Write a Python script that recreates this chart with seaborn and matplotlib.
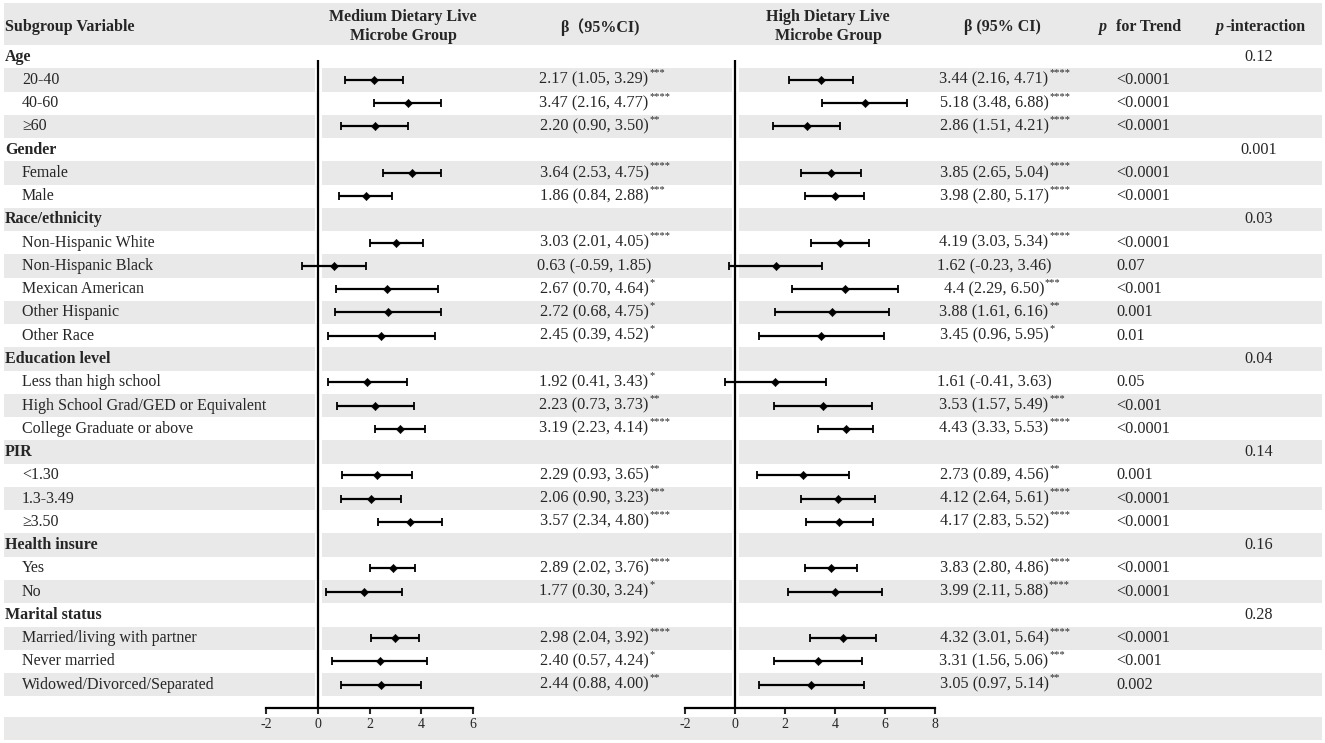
import numpy as np
import pandas as pd
import matplotlib
matplotlib.use("Agg")
import matplotlib.pyplot as plt
import matplotlib.patheffects as pe
from matplotlib.patches import Rectangle
import seaborn as sns

# dados da figura
group_names = ["Age", "Gender", "Race/ethnicity", "Education level", "PIR", "Health insure", "Marital status"]
group_sizes = [3, 2, 5, 3, 3, 2, 3]
p_interaction = ["0.12", "0.001", "0.03", "0.04", "0.14", "0.16", "0.28"]

sub_labels = ["20-40", "40-60", "≥60", "Female", "Male",
              "Non-Hispanic White", "Non-Hispanic Black", "Mexican American", "Other Hispanic", "Other Race",
              "Less than high school", "High School Grad/GED or Equivalent", "College Graduate or above",
              "<1.30", "1.3-3.49", "≥3.50", "Yes", "No",
              "Married/living with partner", "Never married", "Widowed/Divorced/Separated"]

med_beta = ["2.17", "3.47", "2.20", "3.64", "1.86", "3.03", "0.63", "2.67", "2.72", "2.45", "1.92",
            "2.23", "3.19", "2.29", "2.06", "3.57", "2.89", "1.77", "2.98", "2.40", "2.44"]
med_lo = ["1.05", "2.16", "0.90", "2.53", "0.84", "2.01", "-0.59", "0.70", "0.68", "0.39", "0.41",
          "0.73", "2.23", "0.93", "0.90", "2.34", "2.02", "0.30", "2.04", "0.57", "0.88"]
med_hi = ["3.29", "4.77", "3.50", "4.75", "2.88", "4.05", "1.85", "4.64", "4.75", "4.52", "3.43",
          "3.73", "4.14", "3.65", "3.23", "4.80", "3.76", "3.24", "3.92", "4.24", "4.00"]
med_stars = ["***", "****", "**", "****", "***", "****", "", "*", "*", "*", "*",
             "**", "****", "**", "***", "****", "****", "*", "****", "*", "**"]

high_beta = ["3.44", "5.18", "2.86", "3.85", "3.98", "4.19", "1.62", "4.4", "3.88", "3.45", "1.61",
             "3.53", "4.43", "2.73", "4.12", "4.17", "3.83", "3.99", "4.32", "3.31", "3.05"]
high_lo = ["2.16", "3.48", "1.51", "2.65", "2.80", "3.03", "-0.23", "2.29", "1.61", "0.96", "-0.41",
           "1.57", "3.33", "0.89", "2.64", "2.83", "2.80", "2.11", "3.01", "1.56", "0.97"]
high_hi = ["4.71", "6.88", "4.21", "5.04", "5.17", "5.34", "3.46", "6.50", "6.16", "5.95", "3.63",
           "5.49", "5.53", "4.56", "5.61", "5.52", "4.86", "5.88", "5.64", "5.06", "5.14"]
high_stars = ["****", "****", "****", "****", "****", "****", "", "***", "**", "*", "",
              "***", "****", "**", "****", "****", "****", "****", "****", "***", "**"]

p_trend = ["<0.0001", "<0.0001", "<0.0001", "<0.0001", "<0.0001", "<0.0001", "0.07", "<0.001", "0.001", "0.01",
           "0.05", "<0.001", "<0.0001", "0.001", "<0.0001", "<0.0001", "<0.0001", "<0.0001", "<0.0001",
           "<0.001", "0.002"]

med_ticks = [-2, 0, 2, 4, 6]
high_ticks = [-2, 0, 2, 4, 6, 8]

# montar tabela de linhas (grupo + subgrupos)
linhas = []
k = 0
for g, n, pint in zip(group_names, group_sizes, p_interaction):
    linhas.append(dict(tipo="grupo", label=g, pint=pint, idx=-1))
    for j in range(n):
        linhas.append(dict(tipo="sub", label=sub_labels[k], pint="", idx=k))
        k += 1
df = pd.DataFrame(linhas)
df["row"] = np.arange(len(df))

dados = pd.DataFrame({
    "label": sub_labels,
    "med_b": pd.to_numeric(med_beta), "med_lo": pd.to_numeric(med_lo), "med_hi": pd.to_numeric(med_hi),
    "high_b": pd.to_numeric(high_beta), "high_lo": pd.to_numeric(high_lo), "high_hi": pd.to_numeric(high_hi),
})
dados["row"] = df.loc[df["tipo"] == "sub", "row"].values

# estilo
sns.set_style("white")
plt.rcParams["font.family"] = ["Liberation Serif", "Noto Sans CJK SC"]
plt.rcParams["axes.unicode_minus"] = False

W, H = 1325, 743
ROW_H = 23.26
Y0 = 45 + ROW_H / 2
AX_BOTTOM = 708
AX_TOP = 45
CINZA = "#e9e9e9"
FS = 11.5
FS_VAL = 11.7
FS_STAR = 7.5


def ypix(i):
    return Y0 + ROW_H * i


fig = plt.figure(figsize=(W / 100, H / 100), dpi=100)
ax = fig.add_axes([0, 0, 1, 1])
ax.set_xlim(0, W)
ax.set_ylim(H, 0)
ax.axis("off")

# faixas cinzas
ax.add_patch(Rectangle((4, 3), 1318, 42, color=CINZA, lw=0))
for i in range(len(df)):
    if i % 2 == 1:
        ax.add_patch(Rectangle((4, ypix(i) - ROW_H / 2), 1318, ROW_H, color=CINZA, lw=0))
# faixa final abaixo do eixo
ax.add_patch(Rectangle((4, 717), 1318, 23, color=CINZA, lw=0))

# cabeçalho
ax.text(5, 27, "Subgroup Variable", fontsize=FS, fontweight="bold", va="center", ha="left")
ax.text(403, 17, "Medium Dietary Live", fontsize=FS, fontweight="bold", va="center", ha="center")
ax.text(403, 36, "Microbe Group", fontsize=FS, fontweight="bold", va="center", ha="center")
ax.text(600, 27, "β（95%CI)", fontsize=FS, fontweight="bold", va="center", ha="center")
ax.text(828, 17, "High Dietary Live", fontsize=FS, fontweight="bold", va="center", ha="center")
ax.text(828, 36, "Microbe Group", fontsize=FS, fontweight="bold", va="center", ha="center")
ax.text(1002, 27, "β (95% CI)", fontsize=FS, fontweight="bold", va="center", ha="center")
ax.text(1098, 27, "p", fontsize=FS, fontweight="bold", style="italic", va="center", ha="left")
ax.text(1116, 27, "for Trend", fontsize=FS, fontweight="bold", va="center", ha="left")
ax.text(1215, 27, "p", fontsize=FS, fontweight="bold", style="italic", va="center", ha="left")
ax.text(1225, 27, "-interaction", fontsize=FS, fontweight="bold", va="center", ha="left")

# linhas da tabela
for _, r in df.iterrows():
    y = ypix(r["row"])
    if r["tipo"] == "grupo":
        ax.text(5, y, r["label"], fontsize=FS, fontweight="bold", va="center", ha="left")
        ax.text(1259, y, r["pint"], fontsize=FS_VAL, va="center", ha="center")
    else:
        k = r["idx"]
        ax.text(22, y, r["label"], fontsize=FS, va="center", ha="left")
        t1 = ax.text(594, y, f"{med_beta[k]} ({med_lo[k]}, {med_hi[k]})", fontsize=FS_VAL, va="center", ha="center")
        if med_stars[k]:
            ax.annotate(med_stars[k], xy=(1, 1), xycoords=t1, xytext=(0.5, 2.5), textcoords="offset points",
                        fontsize=FS_STAR, va="top", ha="left")
        t2 = ax.text(994, y, f"{high_beta[k]} ({high_lo[k]}, {high_hi[k]})", fontsize=FS_VAL, va="center", ha="center")
        if high_stars[k]:
            ax.annotate(high_stars[k], xy=(1, 1), xycoords=t2, xytext=(0.5, 2.5), textcoords="offset points",
                        fontsize=FS_STAR, va="top", ha="left")
        ax.text(1116, y, p_trend[k], fontsize=FS_VAL, va="center", ha="left")


# forest plots
def forest(x0, x1, col, ticks):
    fa = fig.add_axes([x0 / W, (H - AX_BOTTOM) / H, (x1 - x0) / W, (AX_BOTTOM - AX_TOP) / H])
    fa.patch.set_alpha(0)
    y_bot = (AX_BOTTOM - Y0) / ROW_H
    fa.set_xlim(ticks[0], ticks[-1])
    fa.set_ylim(y_bot, (AX_TOP - Y0) / ROW_H)
    fa.vlines(0, 0.15, y_bot, color="black", lw=1.6, zorder=1,
              path_effects=[pe.Stroke(linewidth=5, foreground="white"), pe.Normal()])
    fa.errorbar(dados[f"{col}_b"], dados["row"],
                xerr=[dados[f"{col}_b"] - dados[f"{col}_lo"], dados[f"{col}_hi"] - dados[f"{col}_b"]],
                fmt="none", ecolor="black", elinewidth=1.6, capsize=3.2, capthick=1.3, zorder=3)
    sns.scatterplot(data=dados, x=f"{col}_b", y="row", marker="D", color="black", s=18,
                    edgecolor="black", ax=fa, zorder=4, legend=False)
    for s in ["top", "right", "left"]:
        fa.spines[s].set_visible(False)
    fa.spines["bottom"].set_linewidth(1.6)
    fa.spines["bottom"].set_color("black")
    fa.set_xticks(ticks)
    fa.set_xticklabels([str(t) for t in ticks])
    fa.set_yticks([])
    fa.tick_params(axis="x", direction="out", length=4, width=1.5, labelsize=10, pad=3, bottom=True)
    fa.set_xlabel("")
    fa.set_ylabel("")
    return fa


forest(266, 473, "med", med_ticks)
forest(685, 935, "high", high_ticks)

fig.savefig("out.png", dpi=100)
